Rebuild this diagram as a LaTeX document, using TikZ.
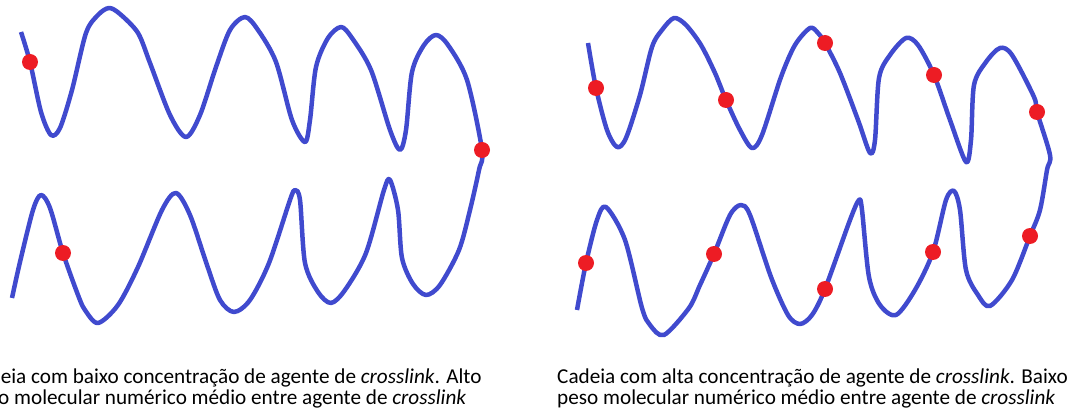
\documentclass[tikz,border=0pt]{standalone}
\usepackage{fontspec}
\setmainfont{Carlito}
\definecolor{chainblue}{RGB}{64,74,206}
\definecolor{linkred}{RGB}{237,28,36}
\begin{document}
\begin{tikzpicture}[x=1pt,y=-1pt,
  chain/.style={draw=chainblue,line width=4.5pt,line join=round,smooth,tension=0.5},
  link/.style={circle,fill=linkred,inner sep=0pt,minimum size=16pt},
  caption/.style={anchor=base west,inner sep=0pt,font=\fontsize{21.2}{25}\selectfont}]
\useasboundingbox (0,0) rectangle (1072,414);
\clip (0,0) rectangle (1072,414);

% low crosslink density: one long folded chain
\draw[chain] plot coordinates {
 (21,32) (30,62) (41,112) (51,135) (60,128) (72,90) (86,33) (98,15) (109,8)
 (120,14) (138,33) (150,63) (170,115) (186,137) (200,115) (216,67) (230,30)
 (245,17) (258,30) (276,62) (292,120) (305,142) (310,120) (316,67) (328,38)
 (341,27) (352,38) (371,70) (390,130) (400,150) (406,130) (412,72) (424,45)
 (436,35) (448,45) (467,80) (482,150) (479,170) (470,210) (459,250) (440,285)
 (426,295) (413,284) (402,258) (398,210) (390,180) (384,190) (366,253)
 (345,290) (331,303) (318,292) (305,263) (300,200) (295,190) (290,200)
 (269,263) (250,300) (234,312) (220,300) (207,265) (190,215) (176,193)
 (162,210) (138,267) (118,305) (98,323) (85,310) (78,295) (63,253) (50,208)
 (41,195) (33,210) (20,262) (12,298)};

\node[link] (l1) at (30,62) {};
\node[link] (l2) at (482,150) {};
\node[link] (l3) at (63,253) {};

% high crosslink density: same chain, many links
\draw[chain] plot coordinates {
 (588,43) (596,88) (607,130) (617,147) (626,138) (640,95) (652,47) (662,30)
 (674,18) (686,25) (701,45) (715,73) (726,100) (740,130) (752,148) (762,135)
 (781,77) (795,45) (810,28) (818,33) (825,43) (840,73) (858,120) (870,153)
 (875,140) (879,78) (890,55) (906,38) (918,45) (934,75) (950,120) (966,162)
 (971,140) (974,85) (986,62) (1000,48) (1012,55) (1034,97) (1037,112)
 (1050,155) (1047,170) (1040,210) (1030,236) (1012,280) (990,306) (978,295)
 (966,270) (960,210) (954,191) (946,200) (933,252) (915,290) (896,315)
 (880,305) (869,277) (862,210) (859,200) (850,220) (825,289) (812,315)
 (800,324) (788,315) (771,277) (750,215) (741,205) (730,215) (714,254)
 (700,285) (689,308) (664,335) (650,325) (642,308) (625,240) (606,207)
 (597,220) (586,263) (577,310)};

\node[link] (r1) at (596,88) {};
\node[link] (r2) at (726,100) {};
\node[link] (r3) at (825,43) {};
\node[link] (r4) at (934,75) {};
\node[link] (r5) at (1037,112) {};
\node[link] (r6) at (1030,236) {};
\node[link] (r7) at (933,252) {};
\node[link] (r8) at (825,289) {};
\node[link] (r9) at (714,254) {};
\node[link] (r10) at (586,263) {};

\node[caption] (capL1) at (-32,383) {Cadeia com baixo concentração de agente de {\itshape crosslink}. Alto};
\node[caption] (capL2) at (-32,404) {peso molecular numérico médio entre agente de {\itshape crosslink}};
\node[caption] (capR1) at (557,383) {Cadeia com alta concentração de agente de {\itshape crosslink}. Baixo};
\node[caption] (capR2) at (557,404) {peso molecular numérico médio entre agente de {\itshape crosslink}};
\end{tikzpicture}
\end{document}
